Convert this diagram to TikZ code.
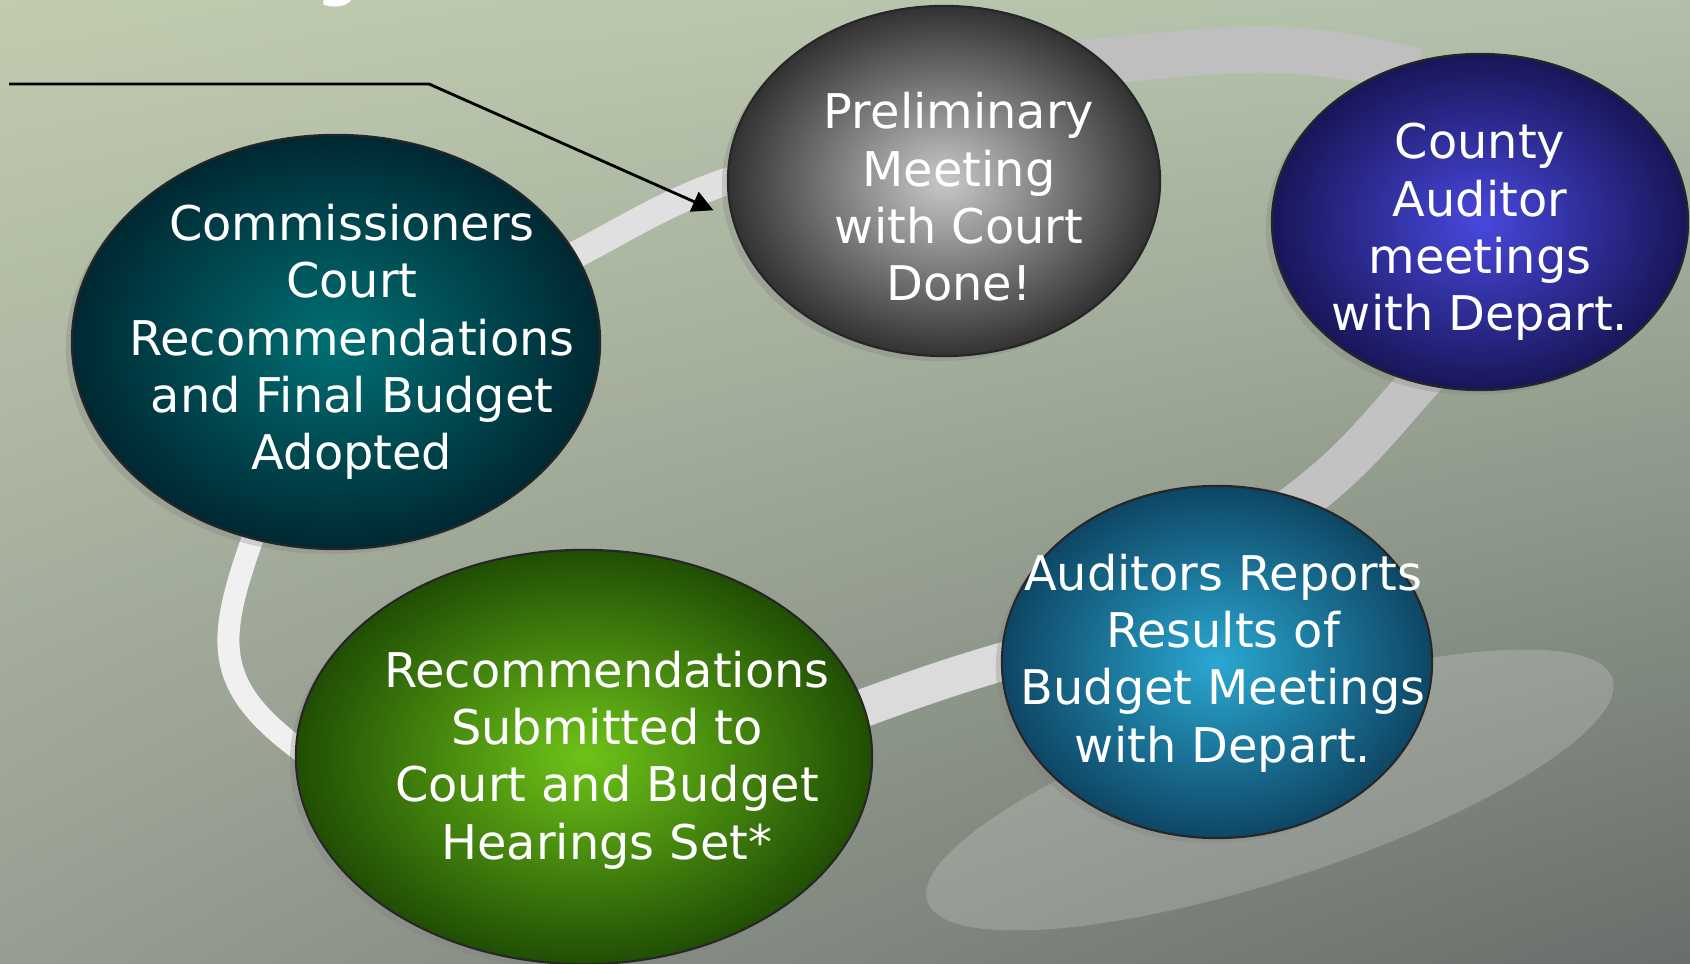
\documentclass[tikz,border=0pt]{standalone}
\usepackage{fontspec}
\setmainfont{DejaVu Sans}
\usetikzlibrary{shapes.geometric,arrows.meta,calc,backgrounds,shadows,shadings}

\definecolor{bgtl}{RGB}{192,203,175}
\definecolor{bgtr}{RGB}{178,192,170}
\definecolor{bgbl}{RGB}{150,158,146}
\definecolor{bgbr}{RGB}{104,110,106}
\definecolor{commin}{RGB}{0,112,116}
\definecolor{commout}{RGB}{0,40,50}
\definecolor{prelimin}{RGB}{200,200,200}
\definecolor{prelimout}{RGB}{50,50,50}
\definecolor{countyin}{RGB}{72,72,222}
\definecolor{countyout}{RGB}{24,22,88}
\definecolor{audin}{RGB}{42,168,210}
\definecolor{audout}{RGB}{14,70,100}
\definecolor{recsin}{RGB}{110,195,25}
\definecolor{recsout}{RGB}{32,78,4}

\begin{document}
\begin{tikzpicture}[x=0.01cm, y=0.01cm,
        stage/.style={ellipse, draw=black!85, line width=0.6pt, inner sep=0pt,
            drop shadow={shadow xshift=-0.06cm, shadow yshift=-0.05cm, opacity=0.3}},
        caption/.style={text=white, align=center, inner sep=0pt, font=\fontsize{13.6}{16.3}\selectfont},
        ribbon/.style={line cap=butt, shorten <=-0.2cm, shorten >=-0.2cm},
        pointer/.style={draw=black, line width=0.8pt, -{Triangle[length=6pt,width=6pt]}}]

    \useasboundingbox (0,0) rectangle (1690,964);

    % the five stages
    \node[stage, minimum width=5.28cm, minimum height=4.14cm, inner color=commin, outer color=commout] (comm) at (336,622) {};
    \node[stage, minimum width=4.32cm, minimum height=3.50cm, inner color=prelimin, outer color=prelimout] (prelim) at (944,783) {};
    \node[stage, minimum width=4.16cm, minimum height=3.36cm, inner color=countyin, outer color=countyout] (county) at (1480,742) {};
    \node[stage, minimum width=4.30cm, minimum height=3.52cm, inner color=audin, outer color=audout] (aud) at (1217,302) {};
    \node[stage, minimum width=5.76cm, minimum height=4.14cm, inner color=recsin, outer color=recsout] (recs) at (584,207) {};

    \node[caption] (commtxt) at ($(comm)+(16,0)$) {Commissioners\\Court\\Recommendations\\and Final Budget\\Adopted};
    \node[caption] (prelimtxt) at ($(prelim)+(15,-16)$) {Preliminary\\Meeting\\with Court\\Done!};
    \node[caption] (countytxt) at ($(county)+(0,-10)$) {County\\Auditor\\meetings\\with Depart.};
    \node[caption] (audtxt) at ($(aud)+(6,-1)$) {Auditors Reports\\Results of\\Budget Meetings\\with Depart.};
    \node[caption] (recstxt) at ($(recs)+(23,-3)$) {Recommendations\\Submitted to\\Court and Budget\\Hearings Set*};

    % cut-off title
    \node[text=white, font=\bfseries\fontsize{16.5}{20}\selectfont, inner sep=0pt, anchor=base] (titleg) at (338,969) {g};

    % pointer
    \coordinate (ptrstart) at (9,880);
    \coordinate (ptrbend) at (429,880);
    \draw[pointer, shorten >=0.2cm] (ptrstart) -- (ptrbend) -- (prelim.190);

    \begin{scope}[on background layer]
        \shade[upper left=bgtl, upper right=bgtr, lower left=bgbl, lower right=bgbr] (0,0) rectangle (1690,964);
        \fill[white, opacity=0.18, rotate around={18:(1270,174)}] (1270,174) ellipse [x radius=3.6cm, y radius=0.9cm];
        % ribbons between stages
        \draw[ribbon, line width=0.27cm, draw=black!12] (comm.20) to[out=27, in=198] (prelim.180);
        \draw[ribbon, line width=0.46cm, draw=black!25] (prelim.37) to[out=5, in=165] (county.118);
        \draw[ribbon, line width=0.42cm, draw=black!24] (county.249) to[out=228, in=36] (aud.62);
        \draw[ribbon, line width=0.38cm, draw=black!14] (recs.10) to[out=20, in=196] (aud.180);
        \draw[ribbon, line width=0.22cm, draw=black!6] (comm.247) to[out=250, in=145, looseness=1.3] (recs.178);
    \end{scope}
\end{tikzpicture}
\end{document}
